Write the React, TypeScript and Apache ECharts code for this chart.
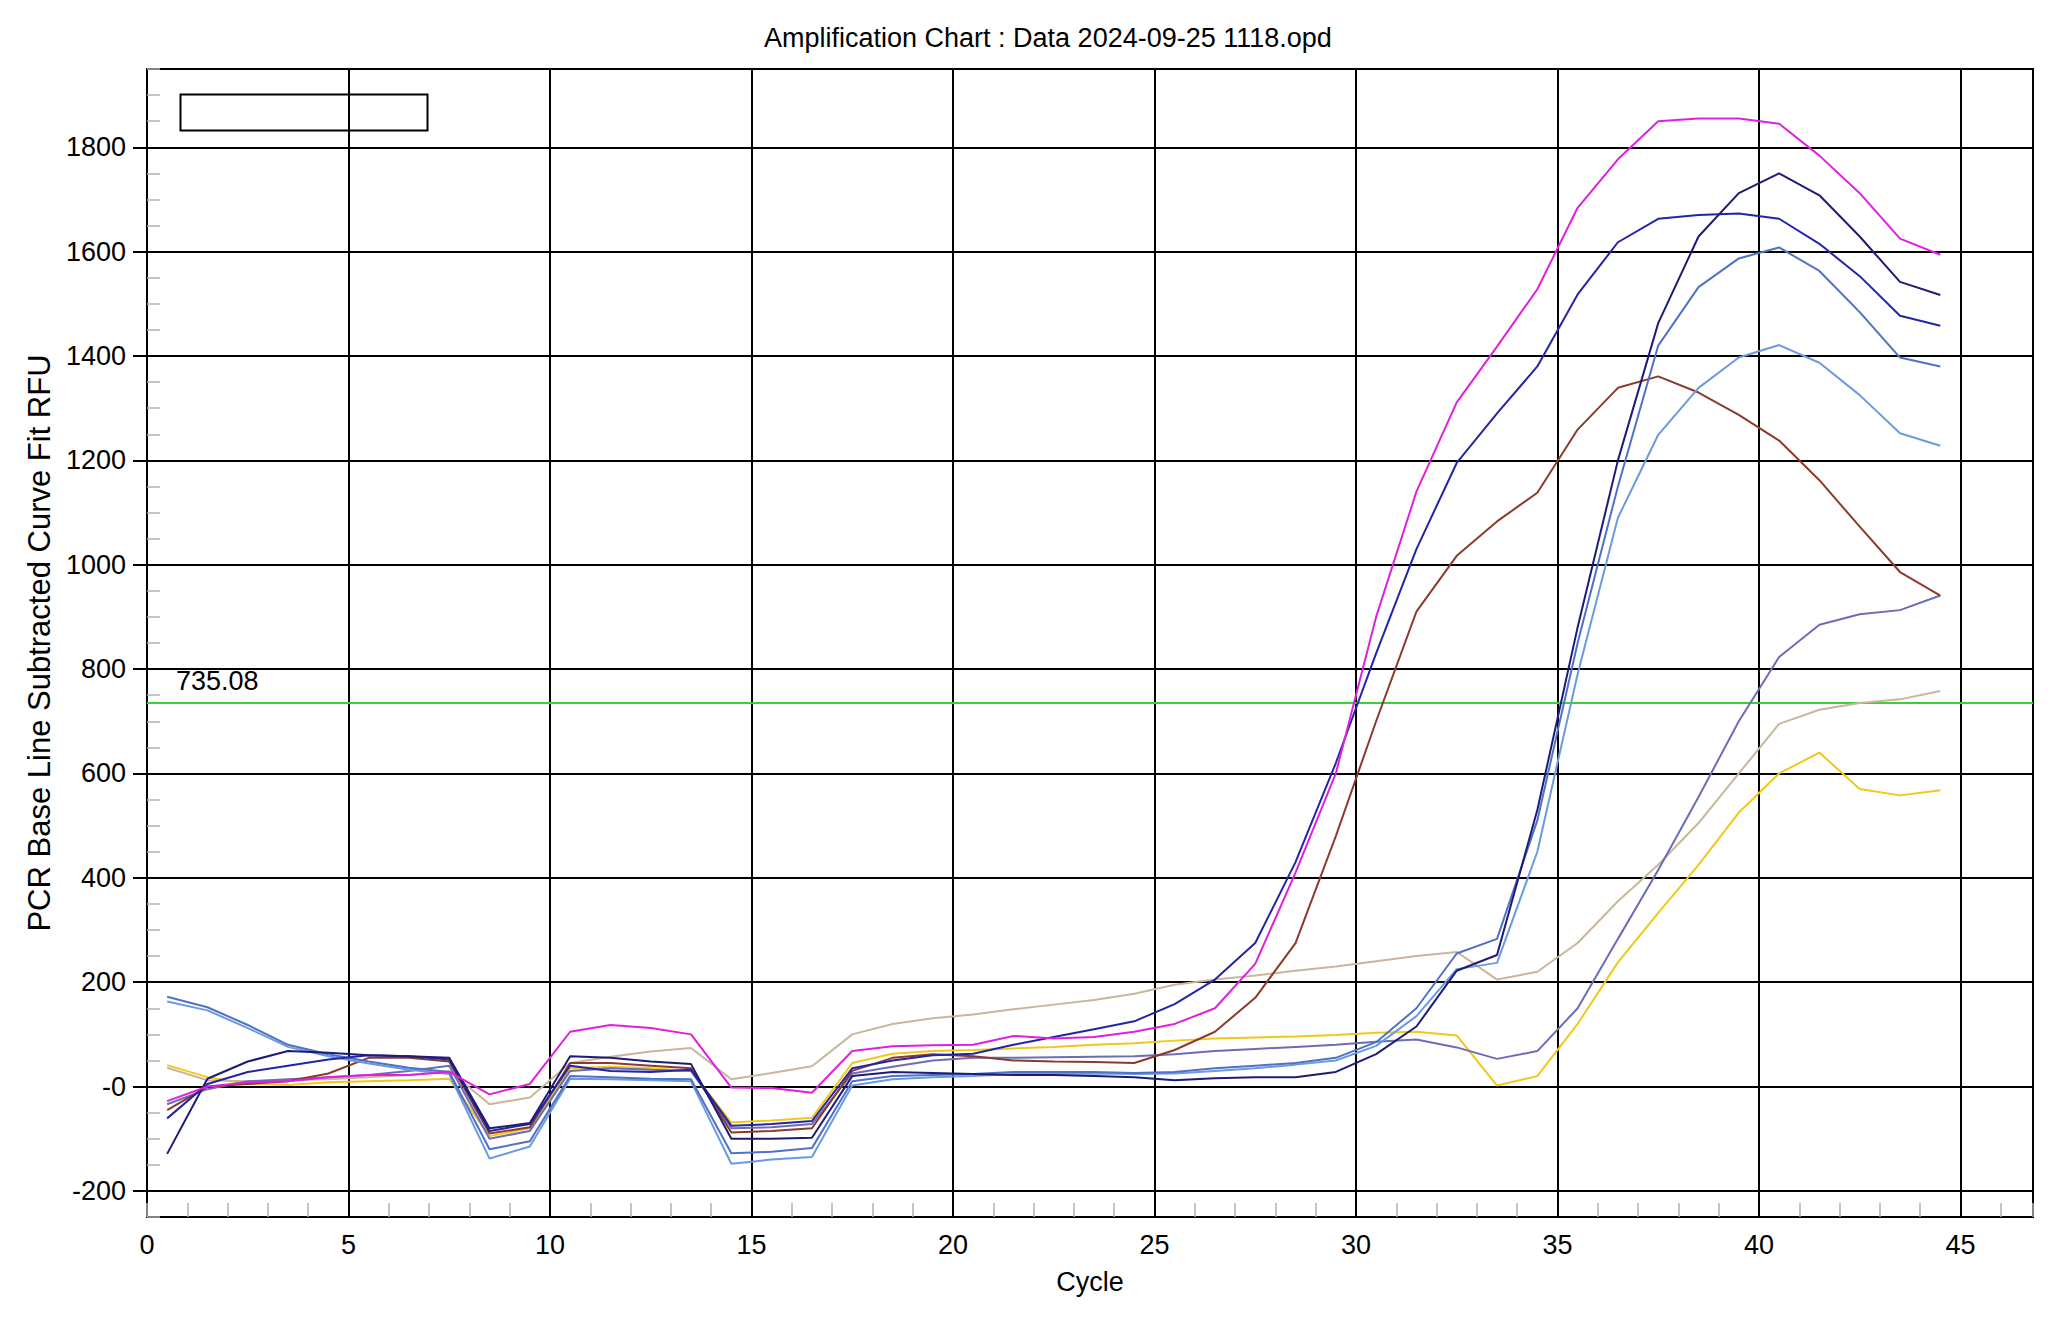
import React, { useEffect, useRef } from "react";
import * as echarts from "echarts";

const TITLE = "Amplification Chart : Data 2024-09-25 1118.opd";
const X_NAME = "Cycle";
const Y_NAME = "PCR Base Line Subtracted Curve Fit RFU";
const THRESHOLD = 735.08;
const THRESHOLD_LABEL = "735.08";

const cycles = [
  0.5, 1.5, 2.5, 3.5, 4.5, 5.5, 6.5, 7.5, 8.5, 9.5,
  10.5, 11.5, 12.5, 13.5, 14.5, 15.5, 16.5, 17.5, 18.5, 19.5,
  20.5, 21.5, 22.5, 23.5, 24.5, 25.5, 26.5, 27.5, 28.5, 29.5,
  30.5, 31.5, 32.5, 33.5, 34.5, 35.5, 36.5, 37.5, 38.5, 39.5,
  40.5, 41.5, 42.5, 43.5, 44.5,
];

const magenta = [
  -28, 0, 8, 10, 18, 22, 22, 28, -15, 5,
  105, 118, 112, 100, -2, -3, -12, 68, 77, 79,
  80, 97, 92, 95, 105, 120, 150, 235, 410, 600,
  900, 1140, 1311, 1418, 1528, 1684, 1777, 1850, 1855, 1855,
  1845, 1784, 1712, 1625, 1594,
];
const navy = [
  -129, 15, 48, 68, 65, 60, 58, 55, -80, -70,
  58, 55, 48, 43, -100, -100, -98, 20, 28, 26,
  24, 22, 22, 20, 18, 12, 16, 18, 18, 28,
  62, 115, 222, 252, 530, 880, 1200, 1463, 1629, 1712,
  1750, 1708, 1629, 1542, 1517,
];
const blue = [
  -61, 5, 28, 40, 52, 60, 58, 52, -85, -72,
  40, 30, 28, 32, -75, -72, -66, 35, 50, 60,
  63, 80, 95, 110, 125, 158, 205, 275, 430, 620,
  830, 1030, 1195, 1290, 1380, 1518, 1618, 1663, 1670, 1673,
  1663, 1615, 1553, 1477, 1458,
];
const cornflower = [
  172, 152, 118, 80, 62, 48, 36, 28, -120, -105,
  20, 18, 15, 14, -128, -125, -118, 10, 20, 22,
  24, 28, 28, 28, 26, 28, 35, 40, 45, 55,
  85, 150, 255, 283, 510, 850, 1150, 1420, 1532, 1587,
  1608, 1563, 1484, 1397, 1380,
];
const lightBlue = [
  163, 146, 112, 76, 58, 44, 32, 24, -138, -115,
  15, 14, 12, 10, -148, -140, -135, 2, 14, 18,
  20, 24, 24, 25, 24, 25, 30, 35, 42, 50,
  78, 135, 225, 237, 450, 790, 1090, 1249, 1339, 1397,
  1421, 1387, 1325, 1252, 1228,
];
const brown = [
  -45, 0, 5, 10, 25, 55, 55, 48, -90, -78,
  45, 45, 40, 35, -88, -85, -80, 30, 55, 62,
  58, 50, 48, 47, 45, 70, 105, 170, 275, 480,
  700, 910, 1017, 1083, 1138, 1259, 1339, 1361, 1330, 1287,
  1238, 1162, 1073, 986, 941,
];
const purple = [
  -34, -5, 10, 14, 18, 22, 30, 40, -100, -85,
  30, 35, 32, 30, -80, -78, -72, 25, 38, 50,
  55, 55, 56, 57, 58, 62, 68, 72, 76, 80,
  86, 90, 75, 53, 68, 150, 283, 415, 555, 700,
  823, 885, 905, 913, 941,
];
const tan = [
  36, 12, 10, 12, 14, 18, 22, 30, -34, -21,
  45, 57, 67, 74, 14, 26, 39, 100, 120, 131,
  138, 148, 157, 166, 178, 195, 205, 213, 222, 230,
  240, 250, 258, 205, 220, 275, 355, 425, 505, 600,
  695, 722, 735, 742, 758,
];
const yellow = [
  41, 18, 5, 3, 8, 10, 12, 15, -95, -80,
  35, 38, 35, 30, -69, -65, -60, 45, 63, 68,
  70, 73, 76, 80, 83, 88, 92, 94, 96, 99,
  103, 105, 98, 2, 20, 120, 238, 333, 425, 525,
  600, 640, 570, 558, 568,
];

const yMajorTicks = [-200, 0, 200, 400, 600, 800, 1000, 1200, 1400, 1600, 1800];
const xMajorTicks = [5, 10, 15, 20, 25, 30, 35, 40, 45];
const xLabelTicks = [0, 5, 10, 15, 20, 25, 30, 35, 40, 45];

const curves = [
  { name: "Curve A", values: yellow, color: "#f2c818" },
  { name: "Curve B", values: tan, color: "#c9b69c" },
  { name: "Curve C", values: purple, color: "#6c6cb8" },
  { name: "Curve D", values: brown, color: "#8c3a2c" },
  { name: "Curve E", values: lightBlue, color: "#6a9be0" },
  { name: "Curve F", values: cornflower, color: "#4f72c4" },
  { name: "Curve G", values: blue, color: "#2424a8" },
  { name: "Curve H", values: navy, color: "#1c1c78" },
  { name: "Curve I", values: magenta, color: "#e020e0" },
];

const FONT = "Liberation Sans, Arial, sans-serif";

export default function App() {
  const ref = useRef<HTMLDivElement>(null);

  useEffect(() => {
    if (!ref.current) return;
    const chart = echarts.init(ref.current, undefined, { renderer: "svg" });

    const X_MAX = 46.8;
    const Y_MIN = -250;
    const Y_MAX = 1950;

    const gridLines: any[] = [];
    yMajorTicks.forEach((v) => gridLines.push({ yAxis: v }));
    xMajorTicks.forEach((v) => gridLines.push({ xAxis: v }));

    const series: any[] = curves.map((c, idx) => {
      const s: any = {
        name: c.name,
        type: "line",
        showSymbol: false,
        symbol: "none",
        silent: true,
        z: 3,
        lineStyle: { color: c.color, width: 2 },
        itemStyle: { color: c.color },
        data: cycles.map((x, i) => [x, c.values[i]]),
      };
      if (idx === 0) {
        s.markLine = {
          silent: true,
          symbol: "none",
          z: 1,
          animation: false,
          label: { show: false },
          lineStyle: { color: "#000", width: 2, type: "solid" },
          emphasis: { disabled: true },
          data: gridLines,
        };
      }
      if (idx === 1) {
        s.markLine = {
          silent: true,
          symbol: "none",
          z: 2,
          animation: false,
          lineStyle: { color: "#3ccf3c", width: 2, type: "solid" },
          emphasis: { disabled: true },
          label: {
            show: true,
            position: "insideStartTop",
            formatter: THRESHOLD_LABEL,
            color: "#000",
            fontSize: 27,
            fontFamily: FONT,
            distance: [29, 8],
          },
          data: [{ yAxis: THRESHOLD }],
        };
      }
      return s;
    });

    const option: any = {
      animation: false,
      backgroundColor: "#fff",
      textStyle: { fontFamily: FONT },
      title: {
        text: TITLE,
        left: 764,
        top: 24,
        padding: 0,
        textStyle: {
          fontSize: 27,
          fontWeight: "normal",
          color: "#000",
          fontFamily: FONT,
        },
      },
      grid: {
        left: 147,
        top: 69,
        right: 30,
        bottom: 103,
        show: true,
        borderColor: "#000",
        borderWidth: 2,
        backgroundColor: "#fff",
        containLabel: false,
      },
      xAxis: {
        type: "value",
        min: 0,
        max: X_MAX,
        interval: 1,
        name: X_NAME,
        nameLocation: "middle",
        nameGap: 51,
        nameTextStyle: { fontSize: 27, color: "#000", fontFamily: FONT },
        axisLine: { show: true, onZero: false, lineStyle: { color: "#000", width: 2 } },
        axisTick: { show: true, inside: true, length: 14, lineStyle: { color: "#b0b0b0", width: 1.5 } },
        axisLabel: {
          show: true,
          margin: 14,
          fontSize: 27,
          color: "#000",
          fontFamily: FONT,
          formatter: (v: number) => (xLabelTicks.indexOf(Math.round(v * 10) / 10) >= 0 ? String(v) : ""),
        },
        splitLine: { show: false },
      },
      yAxis: [
        {
          type: "value",
          min: Y_MIN,
          max: Y_MAX,
          interval: 50,
          name: Y_NAME,
          nameLocation: "middle",
          nameGap: 91,
          nameTextStyle: { fontSize: 31, color: "#000", fontFamily: FONT },
          axisLine: { show: true, onZero: false, lineStyle: { color: "#000", width: 2 } },
          axisTick: { show: true, inside: true, length: 13, lineStyle: { color: "#b0b0b0", width: 1.5 } },
          axisLabel: {
            show: true,
            margin: 21,
            fontSize: 27,
            color: "#000",
            fontFamily: FONT,
            formatter: (v: number) => {
              const r = Math.round(v);
              if (yMajorTicks.indexOf(r) < 0) return "";
              return r === 0 ? "-0" : String(r);
            },
          },
          splitLine: { show: false },
        },
        {
          type: "value",
          position: "left",
          min: Y_MIN,
          max: Y_MAX,
          interval: 50,
          axisLine: { show: false },
          axisTick: {
            show: true,
            inside: false,
            length: 14,
            customValues: yMajorTicks,
            lineStyle: { color: "#000", width: 2 },
          },
          axisLabel: { show: false },
          splitLine: { show: false },
        },
      ],
      graphic: [
        {
          type: "rect",
          left: 178,
          top: 92,
          shape: { width: 247, height: 36 },
          style: { fill: "none", stroke: "#000", lineWidth: 2 },
          silent: true,
          z: 10,
        },
      ],
      series,
    };

    chart.setOption(option);
    return () => {
      chart.dispose();
    };
  }, []);

  return (
    <div
      ref={ref}
      style={{ position: "absolute", left: 0, top: 0, width: 2063, height: 1320, background: "#fff" }}
    />
  );
}
